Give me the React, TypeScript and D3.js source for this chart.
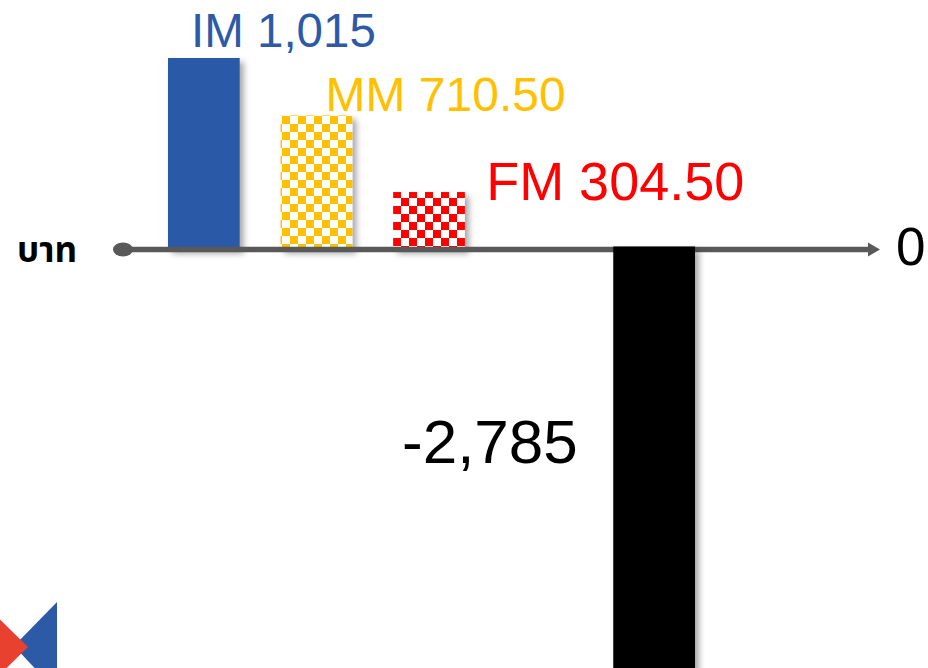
import React from "react";
import * as d3 from "d3";

const categories = ["IM", "MM", "FM", "", "TOTAL"];
const values = [1015, 710.5, 304.5, 0, -2785];
const valueLabels = ["1,015", "710.50", "304.50", "", "-2,785"];
const colors = ["#2C5AA7", "#FFC000", "#FF0000", "none", "#000000"];
const unitLabel = "บาท";
const zeroLabel = "0";

const W = 928;
const H = 668;

export default function App() {
  const y = d3.scaleLinear().domain([0, 1015]).range([249.5, 58]);
  const x = d3
    .scaleBand<string>()
    .domain(categories.map((c, i) => c || "gap" + i))
    .range([168, 690])
    .paddingInner(0.363)
    .paddingOuter(0);
  const bw = x.bandwidth();
  const keys = x.domain();
  const y0 = y(0);

  const fills = [
    colors[0],
    "url(#checkY)",
    "url(#checkR)",
    "none",
    colors[4],
  ];

  const bars = values.map((v, i) => {
    const bx = x(keys[i])!;
    const wide = i === 4 ? bw * 1.14 : bw;
    const cx = bx + bw / 2;
    return {
      i,
      x: cx - wide / 2,
      w: wide,
      top: Math.min(y(v), y0),
      h: Math.abs(y(v) - y0),
      v,
    };
  });

  const font = "'Liberation Sans', Arial, Helvetica, sans-serif";

  return (
    <svg
      width={W}
      height={H}
      style={{ position: "absolute", left: 0, top: 0, background: "#fff" }}
    >
      <defs>
        <pattern id="checkY" width={16} height={16} patternUnits="userSpaceOnUse" x={282} y={116}>
          <rect width={16} height={16} fill="#fff" />
          <rect width={8} height={8} fill={colors[1]} />
          <rect x={8} y={8} width={8} height={8} fill={colors[1]} />
        </pattern>
        <pattern id="checkR" width={16} height={16} patternUnits="userSpaceOnUse" x={393} y={182}>
          <rect width={16} height={16} fill="#fff" />
          <rect x={8} width={8} height={8} fill={colors[2]} />
          <rect y={8} width={8} height={8} fill={colors[2]} />
        </pattern>
        <filter id="shadow" x="-20%" y="-20%" width="150%" height="150%">
          <feDropShadow dx={4} dy={4} stdDeviation={3} floodColor="#000" floodOpacity={0.35} />
        </filter>
      </defs>

      {/* positive bars */}
      {bars
        .filter((b) => b.v > 0)
        .map((b) => (
          <rect
            key={b.i}
            x={b.x}
            y={b.top}
            width={b.w}
            height={b.h}
            fill={fills[b.i]}
            filter="url(#shadow)"
          />
        ))}

      {/* axis */}
      <line x1={123} x2={870} y1={y0} y2={y0} stroke="#595959" strokeWidth={5.5} />
      <ellipse cx={123} cy={y0} rx={10} ry={7} fill="#595959" />
      <path
        d={`M868,${y0 - 7} L880,${y0} L868,${y0 + 7} Z`}
        fill="#595959"
      />

      {/* negative bars */}
      {bars
        .filter((b) => b.v < 0)
        .map((b) => (
          <rect
            key={b.i}
            x={b.x}
            y={b.top - 3}
            width={b.w}
            height={b.h + 3}
            fill={fills[b.i]}
            filter="url(#shadow)"
          />
        ))}

      {/* labels */}
      <text x={x(keys[0])! + 23} y={y(values[0]) - 11} fontFamily={font} fontSize={47.5} fill={colors[0]}>
        {categories[0] + " " + valueLabels[0]}
      </text>
      <text x={x(keys[1])! + 45} y={y(values[1]) - 4} fontFamily={font} fontSize={48} fill={colors[1]}>
        {categories[1] + " " + valueLabels[1]}
      </text>
      <text x={x(keys[2])! + 93} y={y(values[2]) + 8} fontFamily={font} fontSize={54} fill={colors[2]}>
        {categories[2] + " " + valueLabels[2]}
      </text>
      <text x={402} y={463} fontFamily={font} fontSize={62} fill="#000">
        {valueLabels[4]}
      </text>
      <text x={896} y={265} fontFamily={font} fontSize={53} fill="#000">
        {zeroLabel}
      </text>
      <text
        x={17}
        y={262}
        fontFamily="'Noto Sans Thai', 'Noto Sans', Tahoma, 'DejaVu Sans', sans-serif"
        fontSize={35}
        fontWeight="bold"
        fill="#000"
      >
        {unitLabel}
      </text>

      {/* logo */}
      <polygon points="57,602 14,646 57,692" fill="#2C5AA7" />
      <polygon points="-20,600 28,647 -20,694" fill="#E8412F" />
    </svg>
  );
}
